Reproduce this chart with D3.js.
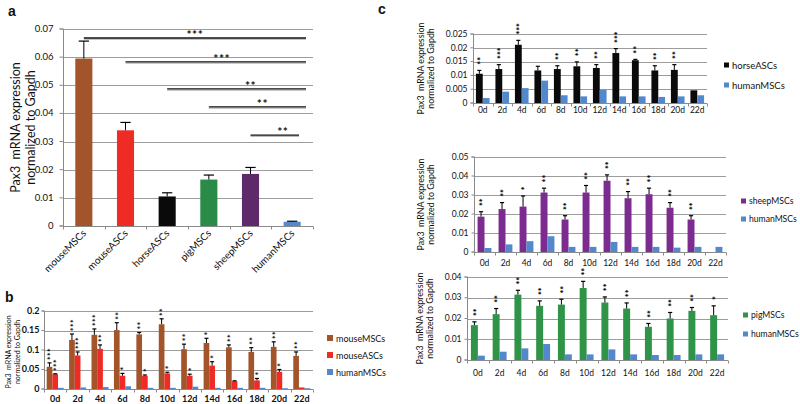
<!DOCTYPE html>
<html><head><meta charset="utf-8">
<script src="https://cdn.jsdelivr.net/npm/d3@7"></script>
<style>body{margin:0;background:#fff}svg{display:block;font-family:Lato,'Open Sans',sans-serif}</style>
</head><body><svg id="c" width="800" height="404"></svg>
<script>
// ---------- DATA ----------
const catsA = ["mouseMSCs","mouseASCs","horseASCs","pigMSCs","sheepMSCs","humanMSCs"];
const valsA = [0.0595,0.034,0.0105,0.0165,0.0185,0.0015];
const errA  = [0.0062,0.0028,0.0013,0.0016,0.0023,0.0002];
const ticksA = [0,0.01,0.02,0.03,0.04,0.05,0.06,0.07];
const sigFromA  = [0,1,2,3,4];
const sigLevelA = [0.0668,0.0583,0.0487,0.0423,0.0323];
const sigLabelA = ["***","***","**","**","**"];

const days = ["0d","2d","4d","6d","8d","10d","12d","14d","16d","18d","20d","22d"];

const ticksB = [0,0.05,0.1,0.15,0.2];
const mouseMSCsB    = [0.057,0.126,0.139,0.151,0.140,0.166,0.102,0.118,0.107,0.095,0.108,0.085];
const mouseMSCsBErr = [0.010,0.015,0.015,0.019,0.005,0.014,0.013,0.012,0.006,0.011,0.013,0.010];
const mouseMSCsBSig = [3,3,3,2,2,2,2,1,2,2,2,2];
const mouseASCsB    = [0.038,0.086,0.103,0.034,0.034,0.040,0.034,0.060,0.020,0.022,0.044,0.004];
const mouseASCsBErr = [0.001,0.009,0.010,0.006,0.002,0.003,0.004,0.010,0.001,0.005,0.006,0.000];
const mouseASCsBSig = [3,3,2,1,1,1,1,1,0,1,1,0];
const humanB        = [0.003,0.004,0.005,0.007,0.003,0.003,0.006,0.003,0.003,0.003,0.002,0.002];

const ticksH = [0,0.005,0.01,0.015,0.02,0.025];
const horseC    = [0.0106,0.0123,0.0211,0.0118,0.0123,0.0133,0.0127,0.0181,0.0155,0.0118,0.0120,0.0046];
const horseCErr = [0.0012,0.0016,0.0016,0.0015,0.0012,0.0016,0.0012,0.0016,0.0003,0.0017,0.0019,0.0000];
const horseCSig = [2,3,3,0,2,2,2,3,2,2,2,0];
const humanH    = [0.0018,0.0041,0.0054,0.0081,0.0028,0.0024,0.0048,0.0024,0.0024,0.0022,0.0024,0.0028];

const ticksS = [0,0.01,0.02,0.03,0.04,0.05];
const sheepC    = [0.0186,0.0226,0.0239,0.0313,0.0171,0.0313,0.0375,0.0283,0.0304,0.0233,0.0171,0];
const sheepCErr = [0.0026,0.0034,0.0056,0.0023,0.0020,0.0037,0.0031,0.0035,0.0032,0.0027,0.0020,0];
const sheepCSig = [2,2,1,2,2,2,2,2,2,2,2,0];
const humanS    = [0.0021,0.0040,0.0057,0.0083,0.0027,0.0027,0.0053,0.0027,0.0027,0.0023,0.0027,0.0027];

const ticksP = [0,0.01,0.02,0.03,0.04];
const pigC    = [0.0168,0.0221,0.0315,0.0261,0.0267,0.0347,0.0277,0.0248,0.0160,0.0200,0.0237,0.0216];
const pigCErr = [0.0016,0.0027,0.0021,0.0024,0.0026,0.0032,0.0027,0.0027,0.0016,0.0029,0.0016,0.0045];
const pigCSig = [2,2,2,2,2,2,2,2,2,2,2,1];
const humanP  = [0.0021,0.0040,0.0056,0.0077,0.0027,0.0027,0.0051,0.0027,0.0024,0.0024,0.0027,0.0027];

const yTitle1 = "Pax3  mRNA expression";
const yTitle2 = "normalized to Gapdh";

// ---------- STYLE ----------
const C = {brown:"#a3542b", red:"#ee2b25", black:"#0a0a0a", greenA:"#2a8a48", purpleA:"#5e2a6a",
           green:"#2f9448", purple:"#7c2b90", blue:"#5389cc", grid:"#9c9c9c", axis:"#8a8a8a"};
const colorsA = [C.brown,C.red,C.black,C.greenA,C.purpleA,C.blue];

const svg = d3.select("#c");

function chart(cfg){
  const g = svg.append("g");
  const x = d3.scaleBand().domain(cfg.cats).range([cfg.left,cfg.right]).padding(0);
  const y = d3.scaleLinear().domain([0,cfg.max]).range([cfg.bottom,cfg.top]);
  // grid
  g.selectAll(null).data(cfg.ticks.filter(t=>t>0)).join("line")
    .attr("x1",cfg.left).attr("x2",cfg.right)
    .attr("y1",d=>Math.round(y(d))+0.5).attr("y2",d=>Math.round(y(d))+0.5)
    .attr("stroke",C.grid).attr("stroke-width",1);
  // y axis
  const ya = g.append("g").attr("transform",`translate(${Math.round(cfg.left)+0.5},0)`)
    .call(d3.axisLeft(y).tickValues(cfg.ticks).tickFormat(d=>String(d)).tickSize(cfg.tickLen).tickPadding(cfg.tickPad).offset(0));
  ya.select(".domain").attr("stroke",C.axis);
  ya.selectAll(".tick line").attr("stroke",C.axis);
  ya.selectAll(".tick text").attr("font-size",cfg.tickFont).attr("fill","#111").attr("font-family","Lato").attr("font-weight",cfg.tickWeight||400);
  // x axis
  const yb = Math.round(cfg.bottom)+0.5;
  g.append("line").attr("x1",cfg.left).attr("x2",cfg.right).attr("y1",yb).attr("y2",yb).attr("stroke",C.axis);
  const edges = cfg.cats.map(c=>x(c)).concat([cfg.right]);
  g.selectAll(null).data(edges).join("line")
    .attr("x1",d=>Math.round(d)+0.5).attr("x2",d=>Math.round(d)+0.5)
    .attr("y1",yb).attr("y2",yb+3).attr("stroke",C.axis);
  // bars
  const gw = x.step()*cfg.groupFrac;
  const inner = d3.scaleBand().domain(d3.range(cfg.series.length)).range([-gw/2,gw/2]).padding(0);
  const bw = inner.bandwidth();
  cfg.series.forEach((s,si)=>{
    const cx = c=>x(c)+x.bandwidth()/2+inner(si)+(cfg.shift||0);
    const col = s.colors || cfg.cats.map(()=>s.color);
    g.selectAll(null).data(s.values).join("rect")
      .attr("x",(d,i)=>cx(cfg.cats[i])).attr("width",bw)
      .attr("y",d=>y(d)).attr("height",d=>y(0)-y(d))
      .attr("fill",(d,i)=>col[i]);
    if(s.errs){
      const capW = Math.max(4,bw*0.6);
      s.errs.forEach((e,i)=>{
        if(!(s.values[i]>0) || e<=0) return;
        const mx = cx(cfg.cats[i])+bw/2;
        g.append("line").attr("x1",mx).attr("x2",mx).attr("y1",y(s.values[i])).attr("y2",y(s.values[i]+e)).attr("stroke","#000").attr("stroke-width",1);
        g.append("line").attr("x1",mx-capW/2).attr("x2",mx+capW/2).attr("y1",y(s.values[i]+e)).attr("y2",y(s.values[i]+e)).attr("stroke","#000").attr("stroke-width",1.2);
      });
    }
    if(s.sig){
      const f = cfg.starFont;
      s.sig.forEach((n,i)=>{
        if(!n) return;
        const mx = cx(cfg.cats[i])+bw/2;
        const top = y(s.values[i]+(s.errs?s.errs[i]:0));
        const yStart = top - cfg.starGap + 0.25*f;
        g.append("text").attr("transform",`translate(${mx+0.57*f},${yStart}) rotate(-90)`)
          .attr("font-size",f).attr("font-weight",900).attr("fill","#111")
          .attr("letter-spacing",cfg.starLs||0).text("*".repeat(n));
      });
    }
  });
  // x labels
  if(cfg.rotate){
    g.selectAll(null).data(cfg.cats).join("text")
      .attr("transform",c=>`translate(${x(c)+x.bandwidth()/2+3},${cfg.bottom+8}) rotate(-45)`)
      .attr("text-anchor","end").attr("font-size",cfg.xFont).attr("fill","#111").text(c=>c);
  } else {
    g.selectAll(null).data(cfg.cats).join("text")
      .attr("x",c=>x(c)+x.bandwidth()/2).attr("y",cfg.bottom+cfg.xOff)
      .attr("text-anchor","middle").attr("font-size",cfg.xFont).attr("font-weight",cfg.xWeight||400).attr("fill","#111").text(c=>c);
  }
  // y title
  const cy = (cfg.top+cfg.bottom)/2 + (cfg.titleDy||0);
  [yTitle1,yTitle2].forEach((t,i)=>{
    g.append("text").attr("transform",`translate(${cfg.titleX[i]},${cy}) rotate(-90)`)
      .attr("text-anchor","middle").attr("font-size",cfg.titleFont).attr("fill","#111")
      .attr("dominant-baseline","central").style("white-space","pre").text(t);
  });
  // legend
  if(cfg.legend){
    cfg.legend.items.forEach((it,i)=>{
      const ly = cfg.legend.ys[i];
      g.append("rect").attr("x",cfg.legend.x).attr("y",ly-cfg.legend.sq/2).attr("width",cfg.legend.sq).attr("height",cfg.legend.sq).attr("fill",it.color);
      g.append("text").attr("x",cfg.legend.x+cfg.legend.sq+3).attr("y",ly).attr("dominant-baseline","central")
        .attr("font-size",cfg.legend.font).attr("fill","#111").text(it.label);
    });
  }
  return {x,y,g,inner,bw};
}

// ---------- PANEL A ----------
const A = chart({cats:catsA,left:63,right:313,top:29,bottom:226,max:0.07,ticks:ticksA,
  tickLen:4,tickPad:6,tickFont:9.5,groupFrac:0.41,rotate:true,xFont:10,
  series:[{values:valsA,errs:errA,colors:colorsA}],
  titleX:[15,30],titleFont:12.5});
sigFromA.forEach((f,i)=>{
  const x1 = A.x(catsA[f])+A.x.bandwidth()/2, x2 = i===4?299:306;
  const yy = A.y(sigLevelA[i]);
  A.g.append("line").attr("x1",x1).attr("x2",x2).attr("y1",yy+1.2).attr("y2",yy+1.2).attr("stroke","#aaa").attr("stroke-width",1);
  A.g.append("line").attr("x1",x1).attr("x2",x2).attr("y1",yy).attr("y2",yy).attr("stroke","#111").attr("stroke-width",1.3);
  A.g.append("text").attr("x",(x1+x2)/2+[0,6,14,5,8][i]).attr("y",yy+1).attr("text-anchor","middle")
    .attr("font-size",12).attr("font-weight",700).attr("letter-spacing","0.5").attr("fill","#111").text(sigLabelA[i]);
});

// ---------- PANEL B ----------
chart({cats:days,left:44,right:313,top:311,bottom:389,max:0.2,ticks:ticksB,
  tickLen:3,tickPad:2,tickFont:9,tickWeight:700,groupFrac:0.76,xFont:9,xOff:13,xWeight:700,
  starGap:5,starFont:8.5,starLs:0.4,
  series:[{values:mouseMSCsB,errs:mouseMSCsBErr,color:C.brown,sig:mouseMSCsBSig},
          {values:mouseASCsB,errs:mouseASCsBErr,color:C.red,sig:mouseASCsBSig},
          {values:humanB,color:C.blue}],
  titleX:[8,17],titleFont:7,titleDy:2,
  legend:{x:327,ys:[338,355,372],sq:6,font:9,items:[{label:"mouseMSCs",color:C.brown},{label:"mouseASCs",color:C.red},{label:"humanMSCs",color:C.blue}]}});

// ---------- PANEL C ----------
chart({cats:days,left:473,right:707,top:34,bottom:103,max:0.025,ticks:ticksH,
  tickLen:3,tickPad:3,tickFont:8.5,groupFrac:0.7,xFont:8.5,xOff:10,
  starGap:8,starFont:9,
  series:[{values:horseC,errs:horseCErr,color:C.black,sig:horseCSig},{values:humanH,color:C.blue}],
  titleX:[420,430],titleFont:8.8,
  legend:{x:724,ys:[65,85],sq:5,font:9.5,items:[{label:"horseASCs",color:C.black},{label:"humanMSCs",color:C.blue}]}});

chart({cats:days,left:474,right:726,top:157,bottom:252,max:0.05,ticks:ticksS,
  tickLen:3,tickPad:3,tickFont:8.5,groupFrac:0.66,xFont:8.5,xOff:14,
  starGap:8,starFont:9,
  series:[{values:sheepC,errs:sheepCErr,color:C.purple,sig:sheepCSig},{values:humanS,color:C.blue}],
  titleX:[420,430],titleFont:8.8,
  legend:{x:741,ys:[201,219],sq:5,font:8.6,items:[{label:"sheepMSCs",color:C.purple},{label:"humanMSCs",color:C.blue}]}});

chart({cats:days,left:467,right:728,top:277,bottom:360,max:0.04,ticks:ticksP,
  tickLen:3,tickPad:3,tickFont:8.5,groupFrac:0.64,xFont:8.5,xOff:16,
  starGap:8,starFont:9,
  series:[{values:pigC,errs:pigCErr,color:C.green,sig:pigCSig},{values:humanP,color:C.blue}],
  titleX:[419,429],titleFont:8.8,
  legend:{x:743,ys:[315,334],sq:5,font:8.6,items:[{label:"pigMSCs",color:C.green},{label:"humanMSCs",color:C.blue}]}});

// panel letters
[["a",8,16],["b",5,302],["c",378,14]].forEach(([t,x,y])=>{
  svg.append("text").attr("x",x).attr("y",y).attr("font-size",14).attr("font-weight",700).attr("font-family","Arial, 'Liberation Sans', sans-serif").attr("fill","#111").text(t);
});
</script></body></html>
